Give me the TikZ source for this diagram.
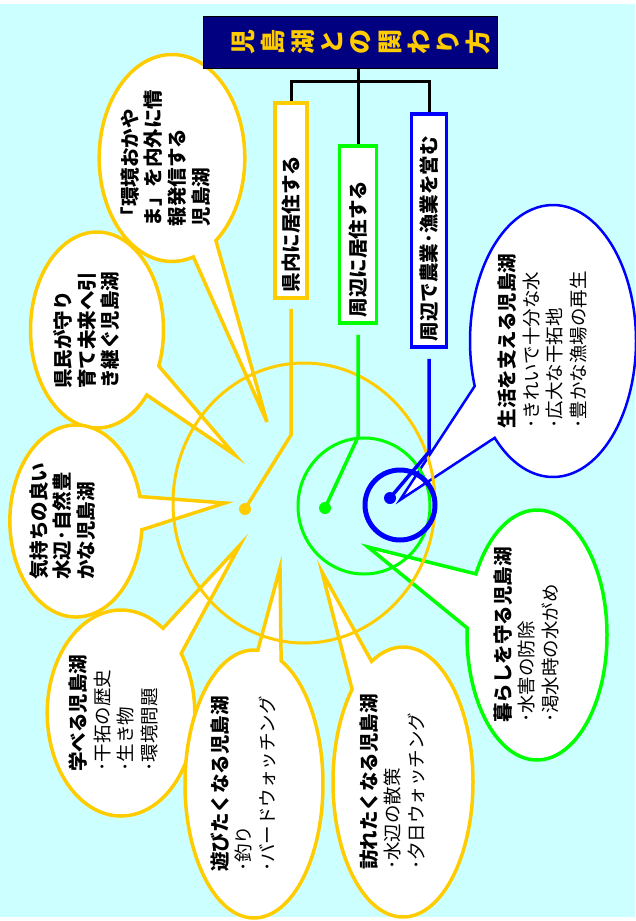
\documentclass[tikz,border=0pt]{standalone}
\usepackage{fontspec}
\setmainfont{Noto Sans CJK JP}
\usepackage{graphicx}
\usetikzlibrary{shapes.callouts}
\definecolor{sky}{HTML}{CCFFFF}
\definecolor{gold}{HTML}{FFCC00}
\definecolor{navy}{HTML}{000080}
\definecolor{kgreen}{HTML}{00FF00}
\definecolor{kblue}{HTML}{0000FF}
\newcommand{\vlines}[2][16pt]{\rotatebox{90}{\begin{tabular}{@{}l@{}}#2\end{tabular}}\hspace*{#1}}
\newcommand{\hd}[1]{{\bfseries\fontsize{19.5}{23.5}\selectfont #1}}

\begin{document}
\begin{tikzpicture}[x=1pt, y=-1pt,
    bubble/.style = {ellipse callout, draw=gold, line width=3.5pt, fill=white,
      inner sep=0pt, callout pointer arc=20,
      font=\fontsize{18.5}{23.5}\selectfont},
    group/.style = {draw, line width=3.5pt, fill=white, rotate=90,
      inner xsep=6pt, inner ysep=0pt, align=left,
      font=\bfseries\fontsize{19.5}{20}\selectfont},
    branch/.style = {line width=3pt},
    dot/.style = {circle, inner sep=0pt, minimum size=12pt}]
  \useasboundingbox (0,0) rectangle (635,921);
  \fill[sky] (0,4) rectangle (635,917);

  \coordinate (t1) at (267,422);
  \coordinate (t2) at (235,455);
  \coordinate (t3) at (225,503);
  \coordinate (t4) at (240,545);
  \coordinate (t5) at (280,568);
  \coordinate (t6) at (322,572);
  \coordinate (t7) at (368,547);
  \coordinate (t8) at (400,500);

  \node[bubble, minimum width=145, minimum height=207, callout absolute pointer=(t1)] (hasshin) at (172,158)
    {\vlines[8pt]{\hd{「環境おかや}\\\hd{ま」を内外に情}\\\hd{報発信する}\\\hd{児島湖}}};
  \node[bubble, minimum width=133, minimum height=196, callout absolute pointer=(t2)] (mirai) at (97,330)
    {\vlines{\hd{県民が守り}\\\hd{育て未来へ引}\\\hd{き継ぐ児島湖}}};
  \node[bubble, minimum width=128, minimum height=192, callout absolute pointer=(t3)] (kimochi) at (76,521)
    {\vlines[22pt]{\hd{気持ちの良い}\\\hd{水辺･自然豊}\\\hd{かな児島湖}}};
  \node[bubble, minimum width=132, minimum height=206, callout absolute pointer=(t4)] (manabu) at (121,713)
    {\vlines[10pt]{\hd{学べる児島湖}\\･干拓の歴史\\･生き物\\･環境問題}};
  \node[bubble, minimum width=138, minimum height=268, callout absolute pointer=(t5)] (asobi) at (254,784)
    {\vlines{\hd{遊びたくなる児島湖}\\･釣り\\･バードウォッチング}};
  \node[bubble, minimum width=140, minimum height=270, callout absolute pointer=(t6)] (otozure) at (403,782)
    {\vlines{\hd{訪れたくなる児島湖}\\･水辺の散策\\･夕日ウォッチング}};
  \node[bubble, draw=kgreen, minimum width=140, minimum height=250, callout pointer arc=26, callout absolute pointer=(t7)] (kurashi) at (537,635)
    {\vlines{\hd{暮らしを守る児島湖}\\･水害の防除\\･渇水時の水がめ}};
  \node[bubble, draw=kblue, line width=2.5pt, minimum width=166, minimum height=272, callout pointer arc=26, callout absolute pointer=(t8)] (seikatsu) at (553,341)
    {\vlines{\hd{生活を支える児島湖}\\･きれいで十分な水\\･広大な干拓地\\･豊かな漁場の再生}};

  \draw[gold, line width=3pt] (304,503) ellipse [x radius=131, y radius=140];
  \draw[kgreen, line width=3pt] (364,506) ellipse [x radius=66, y radius=68];
  \draw[kblue, line width=5pt] (400,505) ellipse [x radius=35, y radius=35];

  \node[fill=navy, draw=black, minimum width=294, minimum height=52, inner sep=0pt,
    text=gold, font=\bfseries\fontsize{25}{28.7}\selectfont] (title) at (350,42)
    {\hspace*{28pt}\rotatebox{90}{\begin{tabular}{@{}c@{}}児\\島\\湖\\と\\の\\関\\わ\\り\\方\end{tabular}}};

  \node[group, draw=gold, minimum width=195, minimum height=32, text width=183] (kennai) at (291,200.5) {県内に居住する};
  \node[group, draw=kgreen, minimum width=177, minimum height=37, text width=165] (shuhen) at (358,234.5) {周辺に居住する};
  \node[group, draw=kblue, minimum width=233, minimum height=35, text width=221] (nogyo) at (429,230.5) {周辺で農業･漁業を営む};

  \draw[branch] (kennai.east) -- ++(0,-20) -| (nogyo.east);
  \draw[branch] (title.south -| shuhen.east) -- (shuhen.east);

  \node[dot, fill=gold] (ydot) at (245,509) {};
  \node[dot, fill=kgreen] (gdot) at (325,508) {};
  \node[dot, fill=kblue] (bdot) at (390,498) {};
  \coordinate (ykink) at (291,435);
  \coordinate (gkink) at (358,437);
  \coordinate (bkink) at (429,452);
  \draw[gold, line width=3.5pt] ([yshift=-9pt]kennai.west) -- (ykink) -- (ydot.center);
  \draw[kgreen, line width=3.5pt] ([yshift=-10pt]shuhen.west) -- (gkink) -- (gdot.center);
  \draw[kblue, line width=3.5pt] ([yshift=-10pt]nogyo.west) -- (bkink) -- (bdot.center);
\end{tikzpicture}
\end{document}
